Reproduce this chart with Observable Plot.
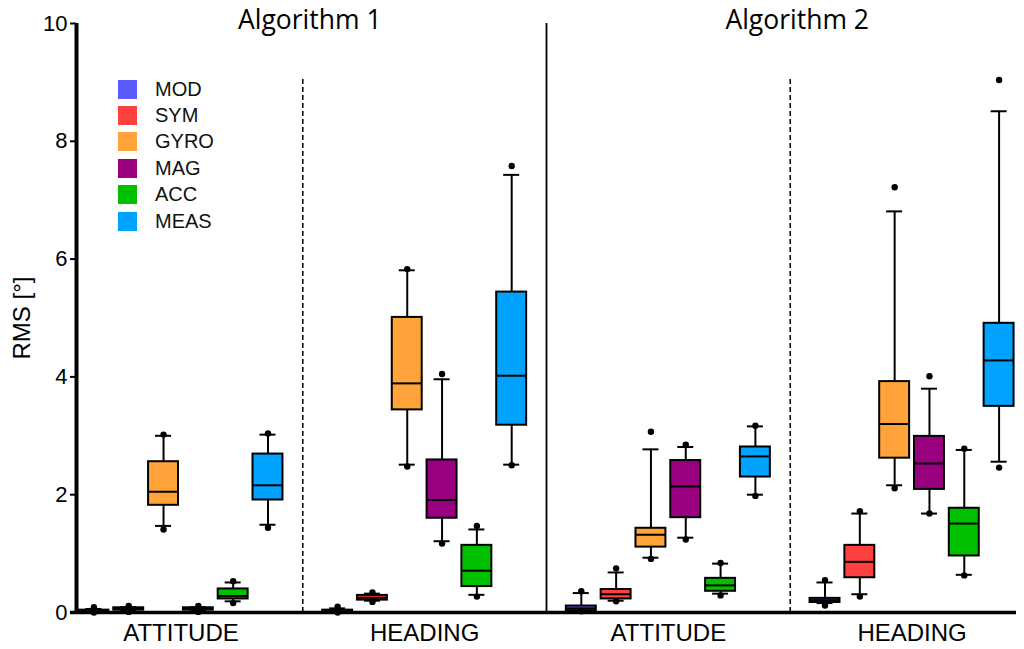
<!DOCTYPE html>
<html>
<head>
<meta charset="utf-8">
<script src="https://cdn.jsdelivr.net/npm/d3@7"></script>
<script src="https://cdn.jsdelivr.net/npm/@observablehq/plot@0.6"></script>
<style>
  body { margin: 0; background: #fff; }
  #wrap { position: relative; width: 1024px; height: 649px; }
  #legend { position: absolute; left: 118px; top: 76px; font-family: "Liberation Sans", Arial, sans-serif; font-size: 20px; color: #111; }
  .row { display: flex; align-items: center; height: 26.4px; }
  .sw { width: 19px; height: 19px; margin-right: 18px; }
</style>
</head>
<body>
<div id="wrap">
  <div id="chart"></div>
  <div id="legend"></div>
</div>
<script>
const series = ["MOD", "SYM", "GYRO", "MAG", "ACC", "MEAS"]
const colors = ["#5a5aff", "#ff4040", "#ffa33a", "#990080", "#00c000", "#00a3ff"]
const groups = ["ATTITUDE", "HEADING", "ATTITUDE", "HEADING"]
const algorithms = ["Algorithm 1", "Algorithm 2"]
const yTicks = [0, 2, 4, 6, 8, 10]
const yLabel = "RMS [°]"

// one value per box, group by group (MOD, SYM, GYRO, MAG, ACC, MEAS)
const loDot = [0.00, 0.01, 1.41, 0.01, 0.16, 1.44,
               0.00, 0.18, 2.48, 1.17, 0.27, 2.50,
               0.02, 0.19, 0.91, 1.24, 0.29, 1.98,
               0.12, 0.27, 2.11, 1.68, 0.63, 2.46]
const loW   = [0.00, 0.03, 1.47, 0.03, 0.19, 1.49,
               0.00, 0.20, 2.51, 1.21, 0.30, 2.51,
               0.03, 0.20, 0.93, 1.27, 0.32, 2.00,
               0.16, 0.31, 2.16, 1.68, 0.64, 2.56]
const q1    = [0.00, 0.04, 1.82, 0.04, 0.23, 1.91,
               0.00, 0.21, 3.44, 1.60, 0.44, 3.18,
               0.03, 0.23, 1.11, 1.61, 0.36, 2.30,
               0.17, 0.59, 2.62, 2.09, 0.96, 3.50]
const med   = [0.02, 0.06, 2.05, 0.06, 0.28, 2.16,
               0.02, 0.25, 3.89, 1.91, 0.71, 4.02,
               0.07, 0.31, 1.32, 2.14, 0.46, 2.65,
               0.21, 0.86, 3.20, 2.53, 1.51, 4.28]
const q3    = [0.04, 0.08, 2.56, 0.08, 0.40, 2.69,
               0.04, 0.29, 5.01, 2.59, 1.14, 5.44,
               0.11, 0.39, 1.43, 2.58, 0.58, 2.81,
               0.24, 1.14, 3.92, 2.99, 1.77, 4.91]
const hiW   = [0.06, 0.09, 3.00, 0.09, 0.51, 3.02,
               0.07, 0.32, 5.81, 3.96, 1.41, 7.43,
               0.33, 0.68, 2.77, 2.81, 0.83, 3.16,
               0.51, 1.68, 6.81, 3.80, 2.76, 8.51]
const hiDot = [0.09, 0.11, 3.02, 0.11, 0.53, 3.04,
               0.10, 0.34, 5.83, 4.05, 1.47, 7.58,
               0.36, 0.75, 3.07, 2.85, 0.84, 3.17,
               0.55, 1.72, 7.22, 4.01, 2.78, 9.04]

const step = series.length + 1   // one empty slot between groups
const half = 0.43, cap = 0.23

let rows = []
groups.forEach((g, gi) => {
  series.forEach((s, si) => {
    let i = gi * series.length + si
    rows.push({group: g, series: s, pos: gi * step + si,
      loDot: loDot[i], loW: loW[i], q1: q1[i], med: med[i],
      q3: q3[i], hiW: hiW[i], hiDot: hiDot[i]})
  })
})

let groupLabels = groups.map((g, gi) => ({label: g, pos: gi * step + (series.length - 1) / 2}))
let algoLabels = algorithms.map((a, ai) => ({label: a, pos: (2 * ai + 1) * step - 1}))
let dashed = algorithms.map((a, ai) => (2 * ai + 1) * step - 1)
let solid = [2 * step - 1]
let xmin = -0.5, xmax = groups.length * step - 1.5

let chart = Plot.plot({
  width: 1024,
  height: 649,
  marginLeft: 76,
  marginRight: 8,
  marginTop: 23,
  marginBottom: 37,
  x: {domain: [xmin, xmax], axis: null},
  y: {domain: [0, 10], axis: null},
  color: {domain: series, range: colors},
  style: {
    fontFamily: '"Liberation Sans", Arial, sans-serif',
    fontSize: '22px',
    background: '#fff',
    color: 'black'
  },
  marks: [
    Plot.axisY(yTicks, {tickSize: 6, strokeWidth: 2, fontSize: 22, tickFormat: d3.format("d"), label: null}),
    Plot.text([yLabel], {frameAnchor: "left", textAnchor: "middle", dx: -54, rotate: -90,
      fontSize: 24, text: d => d}),
    Plot.ruleX(dashed, {y1: 0, y2: 9.1, strokeWidth: 1.5, strokeDasharray: "5,3"}),
    Plot.ruleX(solid, {y1: 0, y2: 10, strokeWidth: 1.8}),
    Plot.ruleX(rows, {x: "pos", y1: "loW", y2: "q1", strokeWidth: 2}),
    Plot.ruleX(rows, {x: "pos", y1: "q3", y2: "hiW", strokeWidth: 2}),
    Plot.ruleY(rows, {y: "loW", x1: d => d.pos - cap, x2: d => d.pos + cap, strokeWidth: 2}),
    Plot.ruleY(rows, {y: "hiW", x1: d => d.pos - cap, x2: d => d.pos + cap, strokeWidth: 2}),
    Plot.rect(rows, {x1: d => d.pos - half, x2: d => d.pos + half, y1: "q1", y2: "q3",
      fill: "series", stroke: "black", strokeWidth: 2}),
    Plot.ruleY(rows, {y: "med", x1: d => d.pos - half, x2: d => d.pos + half, strokeWidth: 2}),
    Plot.dot(rows, {x: "pos", y: "loDot", r: 3.2, fill: "black"}),
    Plot.dot(rows, {x: "pos", y: "hiDot", r: 3.2, fill: "black"}),
    Plot.ruleX([xmin], {y1: 0, y2: 10, strokeWidth: 4}),
    Plot.ruleY([0], {strokeWidth: 3.5, insetLeft: -6}),
    Plot.text(groupLabels, {x: "pos", frameAnchor: "bottom", lineAnchor: "top", dy: 11,
      text: "label", fontSize: 24}),
    Plot.text(algoLabels, {x: "pos", frameAnchor: "top", lineAnchor: "bottom", dx: 7, dy: 5,
      text: "label", fontSize: 26.5, fontFamily: '"Open Sans", sans-serif'})
  ]
})
d3.select('#chart').append(() => chart)

let legend = d3.select('#legend')
series.forEach((s, i) => {
  let row = legend.append('div').attr('class', 'row')
  row.append('div').attr('class', 'sw').style('background', colors[i])
  row.append('span').text(s)
})
</script>
</body>
</html>
